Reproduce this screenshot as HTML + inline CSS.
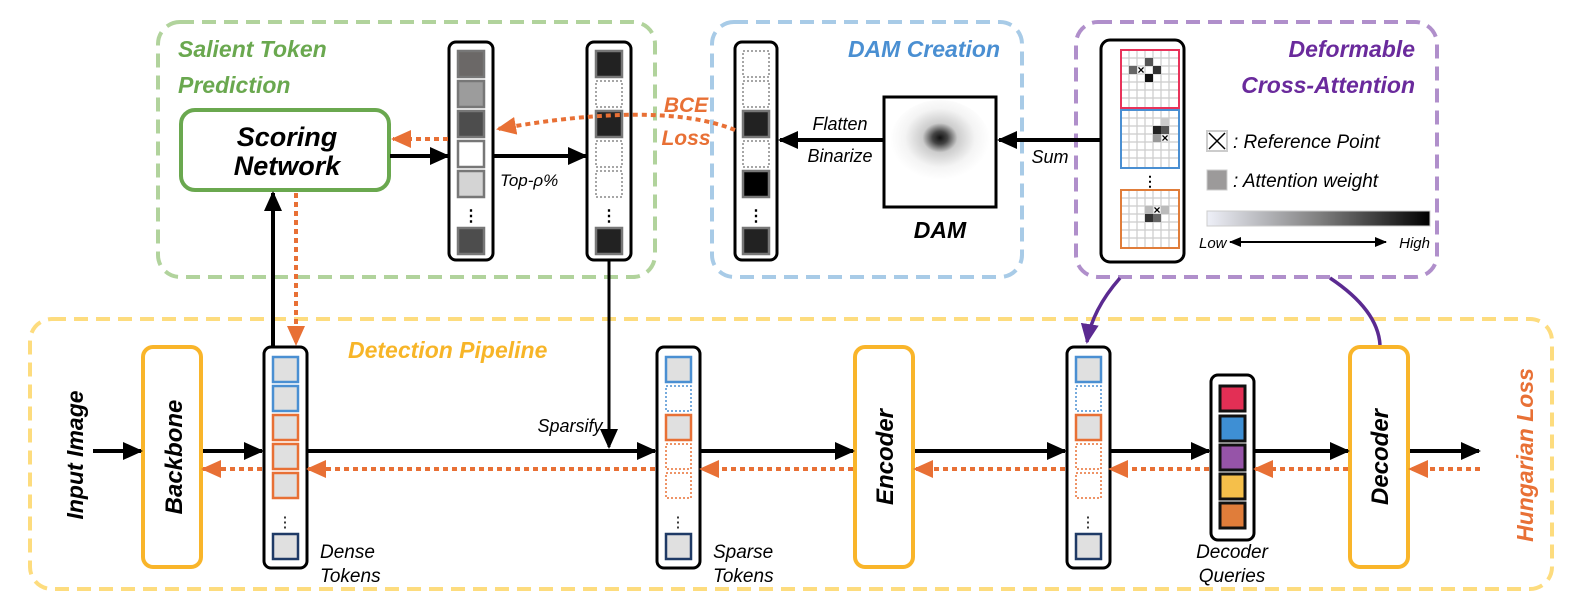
<!DOCTYPE html>
<html><head><meta charset="utf-8"><style>
html,body{margin:0;padding:0;background:#fff;}
svg{display:block;font-family:"Liberation Sans",sans-serif;}
.b{font-weight:bold;font-style:italic;}
.i{font-style:italic;}
</style></head><body>
<svg width="1581" height="606" viewBox="0 0 1581 606" xmlns="http://www.w3.org/2000/svg">
<defs>
<marker id="ak" markerWidth="20" markerHeight="20" refX="18" refY="10" orient="auto" markerUnits="userSpaceOnUse"><path d="M0,1 L20,10 L0,19z" fill="#000"/></marker>
<marker id="ao" markerWidth="20" markerHeight="20" refX="18" refY="10" orient="auto" markerUnits="userSpaceOnUse"><path d="M0,1 L20,10 L0,19z" fill="#e87035"/></marker>
<marker id="ap" markerWidth="20" markerHeight="20" refX="18" refY="10" orient="auto" markerUnits="userSpaceOnUse"><path d="M0,1 L20,10 L0,19z" fill="#5b2a91"/></marker>
<marker id="as" markerWidth="12" markerHeight="12" refX="11" refY="6" orient="auto-start-reverse" markerUnits="userSpaceOnUse"><path d="M0,1 L12,6 L0,11z" fill="#000"/></marker>
<linearGradient id="gr" x1="0" x2="1"><stop offset="0" stop-color="#eef0f8"/><stop offset="0.5" stop-color="#808080"/><stop offset="1" stop-color="#000"/></linearGradient>
<radialGradient id="dam" cx="0.5" cy="0.45" r="0.5"><stop offset="0" stop-color="#111"/><stop offset="0.15" stop-color="#444"/><stop offset="0.35" stop-color="#ccc"/><stop offset="0.7" stop-color="#f4f4f4"/><stop offset="1" stop-color="#fff"/></radialGradient>
</defs>

<rect x="158" y="22" width="497" height="255" rx="22" fill="none" stroke="#b1d39c" stroke-width="4" stroke-dasharray="14,8"/>
<rect x="712" y="22" width="310" height="255" rx="22" fill="none" stroke="#a8cbe7" stroke-width="4" stroke-dasharray="14,8"/>
<rect x="1076" y="22" width="361" height="255" rx="22" fill="none" stroke="#b08fcb" stroke-width="4" stroke-dasharray="14,8"/>
<rect x="30" y="319" width="1522" height="270" rx="22" fill="none" stroke="#fddc7e" stroke-width="4" stroke-dasharray="14,8"/>

<text x="178" y="57" class="b" font-size="23" fill="#6aa84f">Salient Token</text>
<text x="178" y="93" class="b" font-size="23" fill="#6aa84f">Prediction</text>
<text x="1000" y="57" class="b" font-size="23" fill="#4a8fd2" text-anchor="end">DAM Creation</text>
<text x="1415" y="57" class="b" font-size="23" fill="#6a2a9c" text-anchor="end">Deformable</text>
<text x="1415" y="93" class="b" font-size="23" fill="#6a2a9c" text-anchor="end">Cross-Attention</text>
<text x="348" y="358" class="b" font-size="23" fill="#f7b528">Detection Pipeline</text>

<rect x="181" y="110" width="208" height="80" rx="14" fill="#fff" stroke="#6aa84f" stroke-width="4"/>
<text x="287" y="146" class="b" font-size="27" text-anchor="middle">Scoring</text>
<text x="287" y="175" class="b" font-size="27" text-anchor="middle">Network</text>

<rect x="449" y="42" width="44" height="218" rx="7" fill="#fff" stroke="#000" stroke-width="3"/>
<g stroke="#777" stroke-width="2.5">
<rect x="458" y="51" width="26" height="26" fill="#6b6867"/>
<rect x="458" y="81" width="26" height="26" fill="#9c9c9c"/>
<rect x="458" y="111" width="26" height="26" fill="#4d4d4d"/>
<rect x="458" y="141" width="26" height="26" fill="#fff"/>
<rect x="458" y="171" width="26" height="26" fill="#d4d4d4"/>
<rect x="458" y="228" width="26" height="26" fill="#4d4d4d"/>
</g>
<text x="471" y="221" font-size="16" text-anchor="middle" font-weight="bold">⋮</text>

<rect x="587" y="42" width="44" height="218" rx="7" fill="#fff" stroke="#000" stroke-width="3"/>
<g stroke="#777" stroke-width="2.5">
<rect x="596" y="51" width="26" height="26" fill="#222"/>
<rect x="596" y="111" width="26" height="26" fill="#222"/>
<rect x="596" y="228" width="26" height="26" fill="#222"/>
</g>
<g stroke="#888" stroke-width="1.5" stroke-dasharray="2,2" fill="#fff">
<rect x="596" y="81" width="26" height="26"/><rect x="596" y="141" width="26" height="26"/><rect x="596" y="171" width="26" height="26"/>
</g>
<text x="609" y="221" font-size="16" text-anchor="middle" font-weight="bold">⋮</text>

<rect x="735" y="42" width="42" height="218" rx="7" fill="#fff" stroke="#000" stroke-width="3"/>
<g stroke="#888" stroke-width="1.5" stroke-dasharray="2,2" fill="#fff">
<rect x="743" y="51" width="26" height="26"/><rect x="743" y="81" width="26" height="26"/><rect x="743" y="141" width="26" height="26"/>
</g>
<g stroke="#777" stroke-width="2.5">
<rect x="743" y="111" width="26" height="26" fill="#222"/>
<rect x="743" y="171" width="26" height="26" fill="#000"/>
<rect x="743" y="228" width="26" height="26" fill="#222"/>
</g>
<text x="756" y="221" font-size="16" text-anchor="middle" font-weight="bold">⋮</text>

<line x1="390" y1="156" x2="448" y2="156" stroke="#000" stroke-width="4" marker-end="url(#ak)"/>
<line x1="494" y1="156" x2="586" y2="156" stroke="#000" stroke-width="4" marker-end="url(#ak)"/>
<text x="500" y="186" class="i" font-size="17">Top-ρ%</text>
<line x1="448" y1="139" x2="393" y2="139" stroke="#e87035" stroke-width="4" stroke-dasharray="5,4" marker-end="url(#ao)"/>
<path d="M735,130 Q660,100 498,129" fill="none" stroke="#e87035" stroke-width="4" stroke-dasharray="5,4" marker-end="url(#ao)"/>
<text x="686" y="112" class="b" font-size="21" fill="#e87035" text-anchor="middle">BCE</text>
<text x="686" y="145" class="b" font-size="21" fill="#e87035" text-anchor="middle">Loss</text>

<line x1="883" y1="140" x2="780" y2="140" stroke="#000" stroke-width="4" marker-end="url(#ak)"/>
<text x="840" y="130" class="i" font-size="18" text-anchor="middle">Flatten</text>
<text x="840" y="162" class="i" font-size="18" text-anchor="middle">Binarize</text>
<rect x="884" y="97" width="112" height="110" fill="#fff"/>
<ellipse cx="940" cy="142" rx="50" ry="42" fill="url(#dam)"/>
<rect x="884" y="97" width="112" height="110" fill="none" stroke="#000" stroke-width="3"/>
<text x="940" y="238" class="b" font-size="23" text-anchor="middle">DAM</text>
<line x1="1100" y1="140" x2="999" y2="140" stroke="#000" stroke-width="4" marker-end="url(#ak)"/>
<text x="1050" y="163" class="i" font-size="18" text-anchor="middle">Sum</text>

<rect x="1101" y="40" width="83" height="222" rx="9" fill="#fff" stroke="#000" stroke-width="3"/>
<g id="grid">
<g stroke="#ccc" stroke-width="1.2">
<path d="M1121,58h58M1121,66h58M1121,74h58M1121,82h58M1121,90h58M1121,98h58M1129,50v58M1137,50v58M1145,50v58M1153,50v58M1161,50v58M1169,50v58"/>
</g>
</g>
<rect x="1121" y="50" width="58" height="58" fill="none" stroke="#e8335a" stroke-width="2"/>
<rect x="1145" y="58" width="8" height="8" fill="#555"/><rect x="1129" y="66" width="8" height="8" fill="#666"/><rect x="1153" y="66" width="8" height="8" fill="#333"/><rect x="1145" y="74" width="8" height="8" fill="#111"/>
<text x="1141" y="74" font-size="12" font-weight="bold" text-anchor="middle">×</text>
<use href="#grid" y="60"/>
<rect x="1121" y="110" width="58" height="58" fill="none" stroke="#4a8fd2" stroke-width="2"/>
<rect x="1153" y="126" width="8" height="8" fill="#222"/><rect x="1161" y="126" width="8" height="8" fill="#555"/><rect x="1153" y="134" width="8" height="8" fill="#999"/><rect x="1161" y="118" width="8" height="8" fill="#ccc"/>
<text x="1165" y="142" font-size="12" font-weight="bold" text-anchor="middle">×</text>
<text x="1150" y="186" font-size="14" text-anchor="middle" font-weight="bold">⋮</text>
<use href="#grid" y="140"/>
<rect x="1121" y="190" width="58" height="58" fill="none" stroke="#e07d3a" stroke-width="2"/>
<rect x="1145" y="206" width="8" height="8" fill="#bbb"/><rect x="1161" y="206" width="8" height="8" fill="#bbb"/><rect x="1145" y="214" width="8" height="8" fill="#333"/><rect x="1153" y="214" width="8" height="8" fill="#666"/>
<text x="1157" y="214" font-size="12" font-weight="bold" text-anchor="middle">×</text>

<rect x="1207" y="131" width="20" height="20" fill="#fff" stroke="#ccc" stroke-width="2"/>
<path d="M1209,133 L1225,149 M1225,133 L1209,149" stroke="#000" stroke-width="1.5"/>
<text x="1233" y="148" class="i" font-size="19">: Reference Point</text>
<rect x="1207" y="170" width="20" height="20" fill="#9c9a9a" stroke="#ccc" stroke-width="1"/>
<text x="1233" y="187" class="i" font-size="19">: Attention weight</text>
<rect x="1207" y="211" width="223" height="15" fill="url(#gr)" stroke="#ccc"/>
<text x="1199" y="248" class="i" font-size="15">Low</text>
<text x="1430" y="248" class="i" font-size="15" text-anchor="end">High</text>
<line x1="1230" y1="242" x2="1386" y2="242" stroke="#000" stroke-width="2" marker-end="url(#as)" marker-start="url(#as)"/>

<path d="M1120,278 Q1092,310 1087,342" fill="none" stroke="#5b2a91" stroke-width="3.5" marker-end="url(#ap)"/>
<path d="M1330,278 Q1378,310 1380,345" fill="none" stroke="#5b2a91" stroke-width="3.5"/>

<line x1="273" y1="346" x2="273" y2="193" stroke="#000" stroke-width="4" marker-end="url(#ak)"/>
<line x1="296" y1="193" x2="296" y2="344" stroke="#e87035" stroke-width="4" stroke-dasharray="5,4" marker-end="url(#ao)"/>
<line x1="609" y1="261" x2="609" y2="447" stroke="#000" stroke-width="3" marker-end="url(#ak)"/>
<text x="570" y="432" class="i" font-size="18" text-anchor="middle">Sparsify</text>

<text transform="translate(83,455) rotate(-90)" class="b" font-size="23" text-anchor="middle">Input Image</text>
<rect x="143" y="347" width="58" height="220" rx="10" fill="#fff" stroke="#f9b52a" stroke-width="4"/>
<text transform="translate(182,457) rotate(-90)" class="b" font-size="24" text-anchor="middle">Backbone</text>
<rect x="855" y="347" width="58" height="220" rx="10" fill="#fff" stroke="#f9b52a" stroke-width="4"/>
<text transform="translate(893,457) rotate(-90)" class="b" font-size="24" text-anchor="middle">Encoder</text>
<rect x="1350" y="347" width="58" height="220" rx="10" fill="#fff" stroke="#f9b52a" stroke-width="4"/>
<text transform="translate(1388,457) rotate(-90)" class="b" font-size="24" text-anchor="middle">Decoder</text>
<text transform="translate(1533,455) rotate(-90)" class="b" font-size="23" fill="#e87035" text-anchor="middle">Hungarian Loss</text>

<g stroke-width="2.5" fill="#e0e0e0">
<rect x="264" y="347" width="43" height="221" rx="7" fill="#fff" stroke="#000" stroke-width="3"/>
<rect x="273" y="357" width="25" height="25" stroke="#4a8fd2"/>
<rect x="273" y="386" width="25" height="25" stroke="#4a8fd2"/>
<rect x="273" y="415" width="25" height="25" stroke="#e87035"/>
<rect x="273" y="444" width="25" height="25" stroke="#e87035"/>
<rect x="273" y="473" width="25" height="25" stroke="#e87035"/>
<rect x="273" y="534" width="25" height="25" stroke="#1f3a66"/>
</g>
<text x="285" y="527" font-size="15" text-anchor="middle">⋮</text>
<g stroke-width="2.5" fill="#e0e0e0">
<rect x="657" y="347" width="43" height="221" rx="7" fill="#fff" stroke="#000" stroke-width="3"/>
<rect x="666" y="357" width="25" height="25" stroke="#4a8fd2"/>
<rect x="666" y="415" width="25" height="25" stroke="#e87035"/>
<rect x="666" y="534" width="25" height="25" stroke="#1f3a66"/>
</g>
<g fill="#fff" stroke-width="1.5" stroke-dasharray="2,2">
<rect x="666" y="386" width="25" height="25" stroke="#4a8fd2"/>
<rect x="666" y="444" width="25" height="25" stroke="#e87035"/>
<rect x="666" y="473" width="25" height="25" stroke="#e87035"/>
</g>
<text x="678" y="527" font-size="15" text-anchor="middle">⋮</text>
<g stroke-width="2.5" fill="#e0e0e0">
<rect x="1067" y="347" width="43" height="221" rx="7" fill="#fff" stroke="#000" stroke-width="3"/>
<rect x="1076" y="357" width="25" height="25" stroke="#4a8fd2"/>
<rect x="1076" y="415" width="25" height="25" stroke="#e87035"/>
<rect x="1076" y="534" width="25" height="25" stroke="#1f3a66"/>
</g>
<g fill="#fff" stroke-width="1.5" stroke-dasharray="2,2">
<rect x="1076" y="386" width="25" height="25" stroke="#4a8fd2"/>
<rect x="1076" y="444" width="25" height="25" stroke="#e87035"/>
<rect x="1076" y="473" width="25" height="25" stroke="#e87035"/>
</g>
<text x="1088" y="527" font-size="15" text-anchor="middle">⋮</text>
<rect x="1211" y="375" width="43" height="165" rx="7" fill="#fff" stroke="#000" stroke-width="3"/>
<g stroke="#111" stroke-width="3">
<rect x="1220" y="386" width="25" height="25" fill="#e32f55"/>
<rect x="1220" y="416" width="25" height="25" fill="#3e8fd4"/>
<rect x="1220" y="445" width="25" height="25" fill="#9654a8"/>
<rect x="1220" y="474" width="25" height="25" fill="#f5bf4a"/>
<rect x="1220" y="503" width="25" height="25" fill="#e07d3a"/>
</g>

<text x="320" y="558" class="i" font-size="19">Dense</text>
<text x="320" y="582" class="i" font-size="19">Tokens</text>
<text x="713" y="558" class="i" font-size="19">Sparse</text>
<text x="713" y="582" class="i" font-size="19">Tokens</text>
<text x="1232" y="558" class="i" font-size="19" text-anchor="middle">Decoder</text>
<text x="1232" y="582" class="i" font-size="19" text-anchor="middle">Queries</text>

<g stroke="#000" stroke-width="4" marker-end="url(#ak)">
<line x1="93" y1="451" x2="141" y2="451"/>
<line x1="203" y1="451" x2="262" y2="451"/>
<line x1="308" y1="451" x2="655" y2="451"/>
<line x1="701" y1="451" x2="853" y2="451"/>
<line x1="915" y1="451" x2="1065" y2="451"/>
<line x1="1111" y1="451" x2="1209" y2="451"/>
<line x1="1255" y1="451" x2="1348" y2="451"/>
<line x1="1410" y1="451" x2="1479" y2="451"/>
</g>
<g stroke="#e87035" stroke-width="4" stroke-dasharray="5,4" marker-end="url(#ao)">
<line x1="1480" y1="469" x2="1410" y2="469"/>
<line x1="1348" y1="469" x2="1255" y2="469"/>
<line x1="1209" y1="469" x2="1110" y2="469"/>
<line x1="1065" y1="469" x2="915" y2="469"/>
<line x1="853" y1="469" x2="701" y2="469"/>
<line x1="655" y1="469" x2="308" y2="469"/>
<line x1="262" y1="469" x2="203" y2="469"/>
</g>
</svg>
</body></html>
